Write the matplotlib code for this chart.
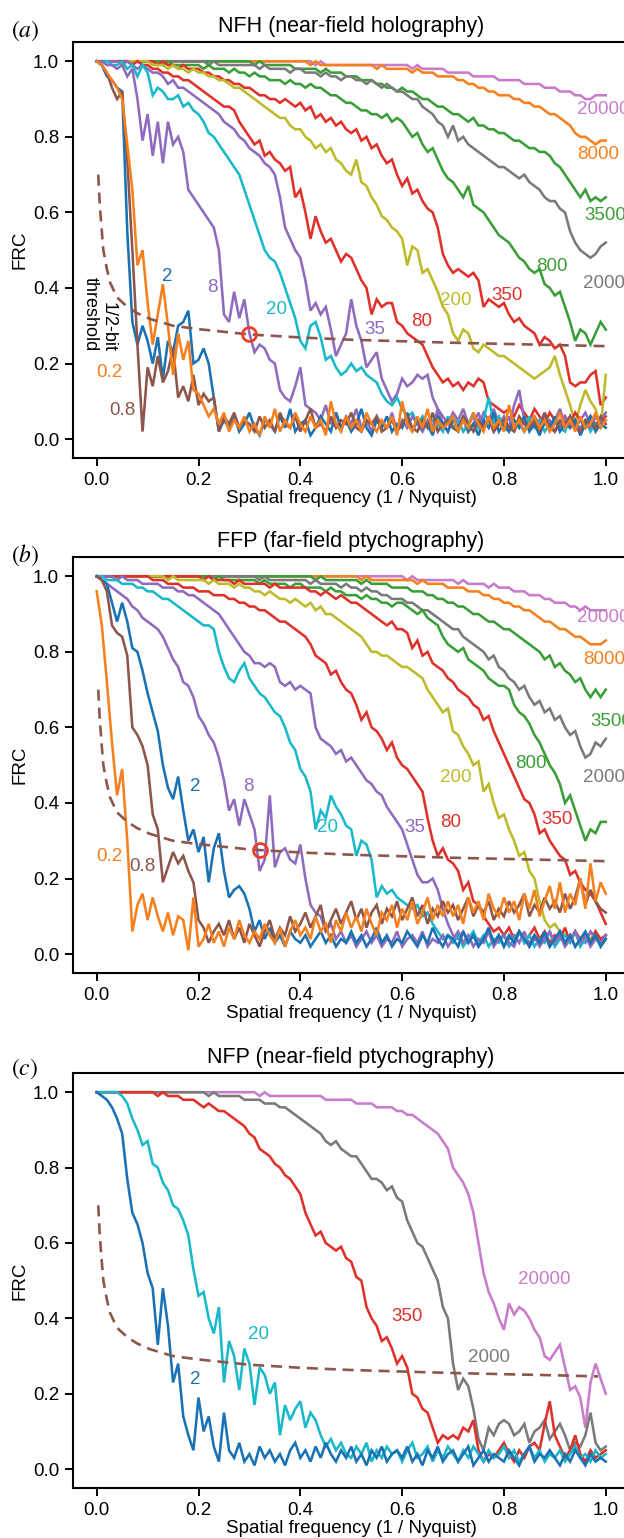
import numpy as np
import matplotlib
matplotlib.use('Agg')
from matplotlib import pyplot as plt

plt.rcParams['font.family'] = ['Liberation Sans', 'DejaVu Sans']
plt.rcParams['mathtext.fontset'] = 'stix'

BLUE = '#1a72b4'
ORANGE = '#f7801e'
BROWN = '#8c564b'
PURPLE = '#8f6bbd'
CYAN = '#1ab9c9'
RED = '#e0302a'
OLIVE = '#bdbb2a'
GREEN = '#3a9e38'
GRAY = '#7a7a7a'
PINK = '#c97cc9'

# FRC curves, sampled every 0.01 from 0 to 1 (1 / Nyquist)
# ---- (a) NFH ----
A_0P2 = [1.0, 0.99, 0.97, 0.95, 0.93, 0.90, 0.78, 0.66, 0.46, 0.50,
         0.36, 0.25, 0.33, 0.41, 0.30, 0.17, 0.28, 0.21, 0.26, 0.13,
         0.12, 0.09, 0.06, 0.08, 0.04, 0.07, 0.02, 0.05, 0.03, 0.06,
         0.02, 0.04, 0.01, 0.06, 0.03, 0.08, 0.02, 0.05, 0.03, 0.07,
         0.04, 0.02, 0.06, 0.03, 0.05, 0.01, 0.10, 0.04, 0.02, 0.06,
         0.03, 0.05, 0.02, 0.07, 0.04, 0.02, 0.05, 0.03, 0.06, 0.01,
         0.10, 0.04, 0.02, 0.06, 0.03, 0.08, 0.02, 0.05, 0.03, 0.04,
         0.06, 0.02, 0.05, 0.03, 0.07, 0.04, 0.02, 0.06, 0.03, 0.05,
         0.02, 0.09, 0.03, 0.05, 0.02, 0.04, 0.06, 0.03, 0.05, 0.02,
         0.04, 0.07, 0.03, 0.05, 0.02, 0.06, 0.03, 0.04, 0.07, 0.03,
         0.05]
A_0P8 = [1.0, 0.99, 0.97, 0.93, 0.90, 0.92, 0.74, 0.50, 0.25, 0.02,
         0.19, 0.14, 0.22, 0.15, 0.18, 0.24, 0.11, 0.14, 0.10, 0.17,
         0.09, 0.12, 0.10, 0.11, 0.02, 0.06, 0.04, 0.07, 0.03, 0.05,
         0.04, 0.02, 0.06, 0.03, 0.05, 0.02, 0.07, 0.04, 0.03, 0.06,
         0.02, 0.05, 0.08, 0.03, 0.04, 0.02, 0.06, 0.03, 0.05, 0.04,
         0.07, 0.03, 0.02, 0.05, 0.04, 0.06, 0.02, 0.03, 0.05, 0.02,
         0.04, 0.06, 0.03, 0.02, 0.05, 0.03, 0.07, 0.02, 0.04, 0.05,
         0.03, 0.02, 0.06, 0.04, 0.02, 0.05, 0.03, 0.06, 0.02, 0.04,
         0.05, 0.03, 0.02, 0.06, 0.04, 0.03, 0.05, 0.02, 0.07, 0.03,
         0.02, 0.05, 0.04, 0.06, 0.03, 0.02, 0.05, 0.04, 0.03, 0.06,
         0.04]
A_2 = [1.0, 0.99, 0.96, 0.95, 0.93, 0.92, 0.55, 0.31, 0.25, 0.30,
       0.26, 0.20, 0.27, 0.16, 0.26, 0.23, 0.30, 0.31, 0.34, 0.20,
       0.21, 0.24, 0.20, 0.11, 0.02, 0.05, 0.03, 0.06, 0.02, 0.04,
       0.07, 0.03, 0.01, 0.05, 0.04, 0.02, 0.06, 0.03, 0.08, 0.02,
       0.04, 0.05, 0.01, 0.03, 0.06, 0.04, 0.02, 0.07, 0.03, 0.05,
       0.02, 0.04, 0.08, 0.03, 0.01, 0.05, 0.03, 0.06, 0.02, 0.04,
       0.03, 0.07, 0.02, 0.05, 0.03, 0.04, 0.01, 0.06, 0.04, 0.02,
       0.05, 0.03, 0.06, 0.02, 0.04, 0.01, 0.05, 0.03, 0.07, 0.02,
       0.04, 0.02, 0.05, 0.03, 0.06, 0.02, 0.04, 0.01, 0.05, 0.03,
       0.06, 0.02, 0.04, 0.03, 0.05, 0.01, 0.04, 0.06, 0.02, 0.04,
       0.03]
A_8 = [1.0, 1.0, 0.99, 0.99, 0.98, 0.99, 0.96, 0.98, 0.90, 0.79,
       0.86, 0.75, 0.84, 0.73, 0.84, 0.78, 0.80, 0.76, 0.66, 0.64,
       0.62, 0.60, 0.58, 0.56, 0.50, 0.33, 0.31, 0.39, 0.32, 0.37,
       0.28, 0.23, 0.25, 0.24, 0.21, 0.20, 0.13, 0.11, 0.10, 0.14,
       0.19, 0.09, 0.08, 0.07, 0.05, 0.09, 0.04, 0.07, 0.03, 0.06,
       0.04, 0.08, 0.03, 0.05, 0.02, 0.06, 0.04, 0.03, 0.07, 0.02,
       0.05, 0.03, 0.06, 0.04, 0.02, 0.05, 0.03, 0.08, 0.04, 0.02,
       0.06, 0.03, 0.05, 0.02, 0.04, 0.07, 0.03, 0.05, 0.02, 0.04,
       0.03, 0.06, 0.02, 0.05, 0.04, 0.03, 0.06, 0.02, 0.04, 0.05,
       0.02, 0.04, 0.06, 0.03, 0.05, 0.02, 0.04, 0.03, 0.06, 0.04,
       0.05]
A_20 = [1.0, 1.0, 1.0, 0.99, 0.99, 1.0, 0.98, 0.99, 0.96, 0.99,
        0.97, 0.91, 0.93, 0.92, 0.90, 0.90, 0.91, 0.88, 0.89, 0.87,
        0.86, 0.84, 0.81, 0.80, 0.78, 0.76, 0.74, 0.72, 0.70, 0.66,
        0.62, 0.58, 0.54, 0.50, 0.48, 0.47, 0.44, 0.40, 0.36, 0.32,
        0.26, 0.24, 0.30, 0.31, 0.27, 0.21, 0.22, 0.19, 0.17, 0.18,
        0.20, 0.18, 0.19, 0.17, 0.16, 0.15, 0.12, 0.10, 0.09, 0.11,
        0.08, 0.06, 0.07, 0.04, 0.06, 0.03, 0.05, 0.04, 0.02, 0.06,
        0.03, 0.05, 0.02, 0.04, 0.07, 0.03, 0.05, 0.11, 0.04, 0.06,
        0.03, 0.02, 0.05, 0.04, 0.02, 0.06, 0.03, 0.05, 0.02, 0.04,
        0.05, 0.03, 0.02, 0.06, 0.04, 0.03, 0.05, 0.02, 0.04, 0.03,
        0.05]
A_35 = [1.0, 1.0, 1.0, 1.0, 1.0, 0.99, 1.0, 0.99, 0.98, 0.99,
        0.98, 0.97, 0.97, 0.96, 0.94, 0.95, 0.93, 0.93, 0.92, 0.91,
        0.90, 0.89, 0.88, 0.87, 0.86, 0.84, 0.83, 0.82, 0.80, 0.79,
        0.77, 0.76, 0.75, 0.73, 0.72, 0.70, 0.64, 0.56, 0.53, 0.50,
        0.48, 0.42, 0.34, 0.36, 0.33, 0.35, 0.29, 0.22, 0.25, 0.28,
        0.37, 0.30, 0.26, 0.19, 0.21, 0.23, 0.16, 0.13, 0.10, 0.12,
        0.16, 0.14, 0.15, 0.17, 0.16, 0.17, 0.11, 0.08, 0.06, 0.04,
        0.07, 0.05, 0.08, 0.04, 0.06, 0.03, 0.07, 0.05, 0.08, 0.04,
        0.06, 0.03, 0.09, 0.13, 0.05, 0.03, 0.06, 0.04, 0.07, 0.03,
        0.05, 0.08, 0.04, 0.06, 0.03, 0.05, 0.07, 0.04, 0.06, 0.05,
        0.07]
A_80 = [1.0, 1.0, 1.0, 1.0, 1.0, 1.0, 1.0, 0.99, 1.0, 0.99,
        0.99, 0.98, 0.98, 0.97, 0.97, 0.96, 0.96, 0.95, 0.95, 0.94,
        0.93, 0.92, 0.91, 0.90, 0.89, 0.88, 0.88, 0.87, 0.84, 0.82,
        0.80, 0.78, 0.79, 0.75, 0.76, 0.74, 0.73, 0.71, 0.72, 0.64,
        0.66, 0.60, 0.53, 0.59, 0.55, 0.52, 0.53, 0.50, 0.47, 0.49,
        0.48, 0.45, 0.42, 0.40, 0.33, 0.37, 0.35, 0.36, 0.36, 0.31,
        0.30, 0.28, 0.27, 0.26, 0.25, 0.22, 0.19, 0.17, 0.15, 0.16,
        0.14, 0.15, 0.13, 0.15, 0.14, 0.16, 0.15, 0.10, 0.09, 0.08,
        0.07, 0.08, 0.06, 0.09, 0.07, 0.05, 0.08, 0.06, 0.04, 0.07,
        0.05, 0.03, 0.06, 0.04, 0.07, 0.05, 0.03, 0.06, 0.04, 0.05,
        0.06]
A_200 = [1.0] * 10 + [
         1.0, 0.99, 0.99, 0.99, 0.98, 0.99, 0.98, 0.98, 0.97, 0.98,
         0.97, 0.97, 0.96, 0.96, 0.95, 0.95, 0.94, 0.93, 0.93, 0.92,
         0.91, 0.90, 0.89, 0.88, 0.87, 0.86, 0.85, 0.85, 0.83, 0.82,
         0.82, 0.80, 0.79, 0.77, 0.78, 0.76, 0.77, 0.74, 0.73, 0.71,
         0.70, 0.74, 0.68, 0.67, 0.64, 0.62, 0.59, 0.58, 0.56, 0.55,
         0.53, 0.46, 0.51, 0.50, 0.44, 0.45, 0.42, 0.39, 0.35, 0.33,
         0.28, 0.26, 0.29, 0.28, 0.24, 0.23, 0.25, 0.24, 0.23, 0.22,
         0.22, 0.21, 0.20, 0.19, 0.18, 0.17, 0.16, 0.17, 0.18, 0.19,
         0.22, 0.17, 0.13, 0.09, 0.04, 0.09, 0.13, 0.10, 0.08, 0.03,
         0.17]
A_350 = [1.0] * 10 + [
         1.0, 1.0, 0.99, 1.0, 0.99, 0.99, 0.98, 0.99, 0.98, 0.98,
         0.98, 0.97, 0.97, 0.96, 0.96, 0.95, 0.95, 0.94, 0.94, 0.93,
         0.93, 0.92, 0.91, 0.91, 0.90, 0.90, 0.89, 0.90, 0.89, 0.88,
         0.89, 0.87, 0.88, 0.85, 0.86, 0.84, 0.85, 0.83, 0.84, 0.82,
         0.81, 0.82, 0.79, 0.80, 0.77, 0.78, 0.75, 0.73, 0.74, 0.70,
         0.67, 0.69, 0.65, 0.66, 0.63, 0.61, 0.60, 0.56, 0.49, 0.46,
         0.44, 0.45, 0.44, 0.43, 0.44, 0.42, 0.35, 0.37, 0.36, 0.35,
         0.36, 0.33, 0.31, 0.32, 0.30, 0.29, 0.28, 0.25, 0.27, 0.26,
         0.24, 0.25, 0.22, 0.15, 0.14, 0.15, 0.15, 0.17, 0.18, 0.09,
         0.11]
A_800 = [1.0] * 10 + [
         1.0, 1.0, 1.0, 0.99, 1.0, 0.99, 0.99, 0.99, 0.99, 0.99,
         0.99, 0.98, 0.99, 0.98, 0.98, 0.98, 0.97, 0.98, 0.97, 0.97,
         0.96, 0.97, 0.96, 0.96, 0.95, 0.95, 0.95, 0.94, 0.95, 0.94,
         0.94, 0.93, 0.94, 0.93, 0.93, 0.92, 0.91, 0.91, 0.90, 0.89,
         0.89, 0.88, 0.87, 0.87, 0.86, 0.86, 0.85, 0.86, 0.84, 0.85,
         0.84, 0.82, 0.80, 0.81, 0.78, 0.76, 0.77, 0.74, 0.71, 0.69,
         0.68, 0.66, 0.64, 0.67, 0.62, 0.61, 0.60, 0.58, 0.56, 0.54,
         0.53, 0.52, 0.50, 0.48, 0.47, 0.45, 0.44, 0.45, 0.41, 0.40,
         0.38, 0.39, 0.35, 0.31, 0.26, 0.29, 0.28, 0.25, 0.28, 0.31,
         0.29]
A_2000 = [1.0] * 20 + [
          1.0, 1.0, 0.99, 1.0, 0.99, 0.99, 0.99, 0.99, 0.99, 0.99,
          0.99, 0.99, 0.98, 0.99, 0.98, 0.98, 0.98, 0.98, 0.97, 0.98,
          0.98, 0.97, 0.97, 0.97, 0.96, 0.97, 0.96, 0.96, 0.95, 0.96,
          0.96, 0.95, 0.95, 0.94, 0.95, 0.94, 0.93, 0.94, 0.93, 0.92,
          0.92, 0.91, 0.90, 0.90, 0.88, 0.87, 0.86, 0.84, 0.83, 0.80,
          0.83, 0.79, 0.80, 0.78, 0.77, 0.76, 0.75, 0.74, 0.73, 0.72,
          0.72, 0.71, 0.70, 0.69, 0.70, 0.68, 0.67, 0.66, 0.64, 0.63,
          0.63, 0.61, 0.60, 0.55, 0.52, 0.50, 0.49, 0.48, 0.49, 0.51,
          0.52]
A_3500 = [1.0] * 30 + [
          1.0, 0.99, 1.0, 0.99, 0.99, 0.99, 0.99, 0.99, 0.99, 0.98,
          0.98, 0.98, 0.98, 0.98, 0.97, 0.98, 0.97, 0.97, 0.97, 0.96,
          0.96, 0.96, 0.95, 0.95, 0.95, 0.94, 0.94, 0.93, 0.93, 0.92,
          0.93, 0.92, 0.92, 0.91, 0.90, 0.90, 0.89, 0.88, 0.88, 0.87,
          0.86, 0.86, 0.85, 0.84, 0.85, 0.83, 0.83, 0.82, 0.82, 0.81,
          0.81, 0.80, 0.79, 0.79, 0.78, 0.77, 0.77, 0.76, 0.76, 0.75,
          0.73, 0.72, 0.70, 0.68, 0.66, 0.64, 0.66, 0.63, 0.64, 0.63,
          0.64]
A_8000 = [1.0] * 40 + [
          1.0, 1.0, 0.99, 1.0, 0.99, 0.99, 0.99, 0.99, 0.99, 0.99,
          0.99, 0.99, 0.99, 0.99, 0.99, 0.98, 0.99, 0.98, 0.98, 0.98,
          0.98, 0.98, 0.97, 0.98, 0.97, 0.97, 0.97, 0.96, 0.96, 0.96,
          0.96, 0.95, 0.95, 0.94, 0.94, 0.93, 0.93, 0.92, 0.92, 0.91,
          0.91, 0.91, 0.90, 0.90, 0.89, 0.89, 0.88, 0.88, 0.87, 0.86,
          0.86, 0.85, 0.84, 0.83, 0.81, 0.80, 0.80, 0.79, 0.78, 0.79,
          0.79]
A_20000 = [1.0] * 40 + [
           1.0, 1.0, 1.0, 0.99, 1.0, 0.99, 0.99, 0.99, 0.99, 0.99,
           0.99, 0.99, 0.99, 0.99, 0.99, 0.99, 0.99, 0.99, 0.99, 0.99,
           0.99, 0.99, 0.98, 0.99, 0.98, 0.98, 0.98, 0.98, 0.98, 0.97,
           0.97, 0.97, 0.97, 0.97, 0.96, 0.96, 0.96, 0.96, 0.96, 0.95,
           0.95, 0.95, 0.95, 0.95, 0.94, 0.94, 0.94, 0.94, 0.93, 0.93,
           0.93, 0.92, 0.92, 0.92, 0.91, 0.91, 0.90, 0.90, 0.91, 0.91,
           0.91]

# ---- (b) FFP ----
B_0P2 = [0.96, 0.87, 0.72, 0.56, 0.42, 0.49, 0.30, 0.06, 0.13, 0.16,
         0.09, 0.15, 0.10, 0.06, 0.11, 0.05, 0.10, 0.09, 0.01, 0.15,
         0.02, 0.04, 0.08, 0.03, 0.06, 0.02, 0.07, 0.04, 0.09, 0.05,
         0.03, 0.06, 0.04, 0.08, 0.05, 0.03, 0.07, 0.02, 0.06, 0.09,
         0.05, 0.07, 0.04, 0.10, 0.06, 0.08, 0.03, 0.09, 0.06, 0.11,
         0.07, 0.10, 0.06, 0.12, 0.08, 0.05, 0.11, 0.09, 0.13, 0.07,
         0.12, 0.09, 0.14, 0.08, 0.11, 0.15, 0.09, 0.13, 0.10, 0.14,
         0.10, 0.13, 0.08, 0.15, 0.11, 0.14, 0.09, 0.16, 0.12, 0.10,
         0.15, 0.11, 0.14, 0.09, 0.16, 0.12, 0.17, 0.10, 0.14, 0.18,
         0.12, 0.19, 0.11, 0.16, 0.13, 0.20, 0.12, 0.24, 0.14, 0.19,
         0.16]
B_0P8 = [1.0, 0.99, 0.96, 0.87, 0.85, 0.84, 0.79, 0.60, 0.58, 0.55,
         0.50, 0.37, 0.33, 0.19, 0.23, 0.27, 0.24, 0.26, 0.22, 0.19,
         0.09, 0.07, 0.03, 0.06, 0.08, 0.05, 0.09, 0.04, 0.07, 0.03,
         0.08, 0.05, 0.02, 0.06, 0.09, 0.04, 0.07, 0.05, 0.10, 0.06,
         0.08, 0.11, 0.07, 0.10, 0.13, 0.06, 0.09, 0.12, 0.08, 0.11,
         0.14, 0.09, 0.12, 0.07, 0.11, 0.13, 0.08, 0.12, 0.10, 0.14,
         0.09, 0.12, 0.15, 0.10, 0.13, 0.08, 0.12, 0.10, 0.14, 0.11,
         0.13, 0.09, 0.12, 0.15, 0.10, 0.13, 0.11, 0.14, 0.09, 0.12,
         0.10, 0.14, 0.11, 0.13, 0.16, 0.10, 0.13, 0.11, 0.15, 0.12,
         0.14, 0.11, 0.16, 0.12, 0.15, 0.20, 0.13, 0.17, 0.14, 0.12,
         0.11]
B_2 = [1.0, 0.99, 0.98, 0.93, 0.88, 0.93, 0.88, 0.81, 0.80, 0.75,
       0.69, 0.64, 0.59, 0.50, 0.44, 0.41, 0.47, 0.38, 0.30, 0.33,
       0.27, 0.31, 0.19, 0.28, 0.32, 0.22, 0.15, 0.17, 0.18, 0.16,
       0.12, 0.06, 0.09, 0.04, 0.07, 0.03, 0.05, 0.02, 0.06, 0.04,
       0.03, 0.05, 0.02, 0.04, 0.06, 0.03, 0.05, 0.02, 0.04, 0.03,
       0.06, 0.03, 0.05, 0.02, 0.04, 0.07, 0.03, 0.05, 0.02, 0.04,
       0.03, 0.06, 0.04, 0.02, 0.05, 0.03, 0.07, 0.04, 0.02, 0.05,
       0.04, 0.02, 0.06, 0.03, 0.05, 0.02, 0.04, 0.07, 0.03, 0.05,
       0.02, 0.05, 0.03, 0.06, 0.04, 0.02, 0.05, 0.03, 0.06, 0.02,
       0.04, 0.06, 0.03, 0.05, 0.02, 0.04, 0.06, 0.03, 0.05, 0.02,
       0.04]
B_8 = [1.0, 0.99, 0.98, 0.97, 0.96, 0.95, 0.94, 0.92, 0.91, 0.89,
       0.88, 0.87, 0.86, 0.84, 0.81, 0.78, 0.76, 0.72, 0.71, 0.68,
       0.63, 0.61, 0.58, 0.56, 0.52, 0.46, 0.38, 0.41, 0.34, 0.41,
       0.37, 0.33, 0.22, 0.25, 0.42, 0.23, 0.27, 0.28, 0.25, 0.24,
       0.29, 0.20, 0.13, 0.11, 0.10, 0.06, 0.08, 0.04, 0.06, 0.03,
       0.05, 0.02, 0.04, 0.06, 0.03, 0.05, 0.02, 0.04, 0.03, 0.06,
       0.02, 0.04, 0.05, 0.03, 0.06, 0.02, 0.04, 0.03, 0.05, 0.02,
       0.04, 0.06, 0.03, 0.05, 0.02, 0.04, 0.03, 0.06, 0.02, 0.04,
       0.05, 0.03, 0.02, 0.06, 0.04, 0.03, 0.05, 0.02, 0.04, 0.06,
       0.03, 0.05, 0.02, 0.04, 0.06, 0.03, 0.05, 0.02, 0.04, 0.03,
       0.05]
B_20 = [1.0, 1.0, 0.99, 0.99, 0.99, 0.98, 0.98, 0.98, 0.97, 0.97,
        0.96, 0.96, 0.95, 0.94, 0.94, 0.93, 0.92, 0.91, 0.90, 0.89,
        0.88, 0.87, 0.87, 0.86, 0.80, 0.76, 0.73, 0.72, 0.75, 0.77,
        0.73, 0.71, 0.69, 0.68, 0.66, 0.64, 0.63, 0.60, 0.56, 0.54,
        0.49, 0.47, 0.43, 0.33, 0.38, 0.36, 0.42, 0.39, 0.37, 0.34,
        0.33, 0.26, 0.30, 0.29, 0.25, 0.15, 0.18, 0.16, 0.17, 0.15,
        0.14, 0.13, 0.12, 0.13, 0.10, 0.11, 0.08, 0.06, 0.04, 0.05,
        0.03, 0.05, 0.02, 0.04, 0.06, 0.03, 0.05, 0.02, 0.04, 0.03,
        0.05, 0.02, 0.04, 0.06, 0.03, 0.05, 0.02, 0.04, 0.03, 0.06,
        0.02, 0.04, 0.05, 0.03, 0.06, 0.02, 0.04, 0.03, 0.05, 0.02,
        0.04]
B_35 = [1.0, 1.0, 1.0, 1.0, 0.99, 1.0, 0.99, 0.99, 0.99, 0.98,
        0.98, 0.98, 0.98, 0.97, 0.97, 0.97, 0.96, 0.96, 0.95, 0.95,
        0.94, 0.93, 0.92, 0.91, 0.90, 0.88, 0.86, 0.84, 0.82, 0.80,
        0.79, 0.77, 0.77, 0.76, 0.77, 0.76, 0.72, 0.71, 0.72, 0.70,
        0.71, 0.70, 0.69, 0.60, 0.57, 0.56, 0.55, 0.53, 0.54, 0.51,
        0.52, 0.50, 0.48, 0.46, 0.45, 0.43, 0.42, 0.39, 0.37, 0.35,
        0.33, 0.29, 0.25, 0.21, 0.19, 0.19, 0.20, 0.17, 0.12, 0.08,
        0.05, 0.04, 0.06, 0.03, 0.05, 0.02, 0.04, 0.06, 0.03, 0.05,
        0.02, 0.04, 0.05, 0.03, 0.06, 0.02, 0.04, 0.03, 0.05, 0.02,
        0.04, 0.06, 0.03, 0.05, 0.02, 0.04, 0.03, 0.06, 0.04, 0.03,
        0.05]
B_80 = [1.0] * 10 + [
        1.0, 0.99, 0.99, 0.99, 0.98, 0.98, 0.98, 0.97, 0.97, 0.97,
        0.96, 0.96, 0.96, 0.95, 0.95, 0.95, 0.94, 0.94, 0.93, 0.93,
        0.92, 0.92, 0.91, 0.91, 0.90, 0.89, 0.88, 0.88, 0.87, 0.86,
        0.85, 0.84, 0.82, 0.79, 0.78, 0.77, 0.74, 0.75, 0.72, 0.70,
        0.69, 0.66, 0.62, 0.64, 0.60, 0.59, 0.57, 0.54, 0.56, 0.52,
        0.50, 0.49, 0.47, 0.45, 0.43, 0.36, 0.30, 0.26, 0.28, 0.25,
        0.24, 0.22, 0.17, 0.19, 0.14, 0.13, 0.10, 0.08, 0.06, 0.07,
        0.05, 0.07, 0.04, 0.06, 0.03, 0.05, 0.07, 0.04, 0.06, 0.03,
        0.05, 0.04, 0.07, 0.03, 0.06, 0.04, 0.05, 0.03, 0.06, 0.04,
        0.05]
B_200 = [1.0] * 10 + [
         1.0, 1.0, 1.0, 1.0, 0.99, 1.0, 0.99, 0.99, 0.99, 0.99,
         0.99, 0.99, 0.98, 0.99, 0.98, 0.98, 0.98, 0.97, 0.98, 0.97,
         0.97, 0.96, 0.96, 0.95, 0.96, 0.95, 0.94, 0.94, 0.93, 0.94,
         0.93, 0.92, 0.93, 0.91, 0.92, 0.90, 0.90, 0.89, 0.88, 0.87,
         0.86, 0.85, 0.84, 0.82, 0.80, 0.80, 0.79, 0.79, 0.78, 0.77,
         0.76, 0.76, 0.75, 0.74, 0.73, 0.70, 0.68, 0.66, 0.64, 0.65,
         0.59, 0.58, 0.55, 0.53, 0.50, 0.51, 0.43, 0.45, 0.40, 0.36,
         0.37, 0.33, 0.30, 0.26, 0.27, 0.22, 0.20, 0.14, 0.09, 0.07,
         0.08, 0.06, 0.05, 0.04, 0.06, 0.03, 0.05, 0.04, 0.06, 0.03,
         0.05]
B_350 = [1.0] * 20 + [
         1.0, 0.99, 1.0, 0.99, 0.99, 0.99, 0.99, 0.98, 0.99, 0.98,
         0.98, 0.98, 0.98, 0.98, 0.97, 0.98, 0.97, 0.97, 0.97, 0.97,
         0.97, 0.97, 0.96, 0.96, 0.95, 0.96, 0.95, 0.94, 0.95, 0.94,
         0.93, 0.93, 0.92, 0.91, 0.90, 0.89, 0.88, 0.87, 0.88, 0.86,
         0.86, 0.85, 0.81, 0.83, 0.79, 0.80, 0.77, 0.76, 0.75, 0.73,
         0.72, 0.70, 0.69, 0.68, 0.66, 0.65, 0.62, 0.63, 0.59, 0.56,
         0.53, 0.50, 0.47, 0.44, 0.41, 0.40, 0.37, 0.32, 0.33, 0.30,
         0.28, 0.26, 0.25, 0.21, 0.22, 0.19, 0.17, 0.16, 0.14, 0.11,
         0.08]
B_800 = [1.0] * 20 + [
         1.0, 1.0, 1.0, 0.99, 1.0, 0.99, 0.99, 0.99, 0.99, 0.99,
         0.99, 0.99, 0.98, 0.99, 0.98, 0.98, 0.98, 0.98, 0.97, 0.98,
         0.98, 0.97, 0.97, 0.97, 0.97, 0.96, 0.97, 0.96, 0.96, 0.95,
         0.95, 0.95, 0.94, 0.95, 0.94, 0.94, 0.93, 0.93, 0.92, 0.93,
         0.93, 0.92, 0.91, 0.90, 0.91, 0.89, 0.88, 0.87, 0.84, 0.82,
         0.81, 0.80, 0.81, 0.78, 0.77, 0.76, 0.75, 0.73, 0.72, 0.71,
         0.71, 0.70, 0.66, 0.64, 0.63, 0.61, 0.58, 0.56, 0.53, 0.50,
         0.48, 0.45, 0.40, 0.42, 0.38, 0.34, 0.30, 0.33, 0.32, 0.35,
         0.35]
B_2000 = [1.0] * 30 + [
          1.0, 1.0, 0.99, 1.0, 0.99, 0.99, 0.99, 0.99, 0.99, 0.99,
          0.99, 0.99, 0.98, 0.99, 0.98, 0.98, 0.98, 0.98, 0.97, 0.98,
          0.97, 0.97, 0.96, 0.97, 0.96, 0.96, 0.95, 0.95, 0.94, 0.94,
          0.94, 0.93, 0.93, 0.92, 0.91, 0.91, 0.90, 0.89, 0.88, 0.87,
          0.86, 0.86, 0.84, 0.83, 0.82, 0.81, 0.80, 0.78, 0.79, 0.76,
          0.75, 0.73, 0.72, 0.70, 0.71, 0.68, 0.66, 0.67, 0.64, 0.65,
          0.62, 0.63, 0.60, 0.58, 0.59, 0.55, 0.52, 0.53, 0.56, 0.55,
          0.57]
B_3500 = [1.0] * 40 + [
          1.0, 1.0, 1.0, 0.99, 1.0, 0.99, 0.99, 0.99, 0.99, 0.99,
          0.99, 0.99, 0.98, 0.99, 0.98, 0.98, 0.98, 0.98, 0.97, 0.97,
          0.97, 0.97, 0.96, 0.96, 0.96, 0.95, 0.95, 0.94, 0.94, 0.93,
          0.93, 0.92, 0.92, 0.91, 0.90, 0.90, 0.89, 0.88, 0.88, 0.87,
          0.86, 0.86, 0.85, 0.84, 0.83, 0.82, 0.81, 0.80, 0.78, 0.79,
          0.76, 0.77, 0.75, 0.74, 0.72, 0.73, 0.70, 0.68, 0.70, 0.68,
          0.70]
B_8000 = [1.0] * 50 + [
          1.0, 1.0, 0.99, 1.0, 0.99, 0.99, 0.99, 0.99, 0.99, 0.99,
          0.99, 0.99, 0.99, 0.98, 0.99, 0.98, 0.98, 0.98, 0.98, 0.97,
          0.97, 0.97, 0.97, 0.96, 0.96, 0.96, 0.95, 0.95, 0.94, 0.94,
          0.93, 0.93, 0.92, 0.92, 0.91, 0.91, 0.90, 0.89, 0.88, 0.88,
          0.87, 0.86, 0.86, 0.85, 0.84, 0.84, 0.83, 0.82, 0.82, 0.82,
          0.83]
B_20000 = [1.0] * 60 + [
           1.0, 0.99, 1.0, 0.99, 0.99, 0.99, 0.99, 0.99, 0.99, 0.99,
           0.99, 0.98, 0.99, 0.98, 0.98, 0.98, 0.98, 0.97, 0.98, 0.97,
           0.97, 0.97, 0.96, 0.96, 0.96, 0.95, 0.95, 0.95, 0.94, 0.94,
           0.93, 0.93, 0.93, 0.92, 0.92, 0.91, 0.92, 0.91, 0.91, 0.91,
           0.91]

# ---- (c) NFP ----
C_2 = [1.0, 0.99, 0.98, 0.96, 0.93, 0.89, 0.77, 0.68, 0.65, 0.60,
       0.52, 0.48, 0.33, 0.48, 0.38, 0.23, 0.28, 0.14, 0.09, 0.05,
       0.19, 0.10, 0.14, 0.06, 0.02, 0.15, 0.05, 0.03, 0.07, 0.02,
       0.04, 0.01, 0.06, 0.03, 0.05, 0.02, 0.04, 0.01, 0.05, 0.07,
       0.03, 0.05, 0.02, 0.06, 0.03, 0.07, 0.04, 0.02, 0.05, 0.03,
       0.06, 0.02, 0.04, 0.01, 0.05, 0.03, 0.06, 0.02, 0.04, 0.05,
       0.03, 0.06, 0.02, 0.04, 0.01, 0.05, 0.03, 0.06, 0.02, 0.04,
       0.05, 0.02, 0.04, 0.06, 0.01, 0.03, 0.05, 0.02, 0.04, 0.03,
       0.02, 0.05, 0.03, 0.01, 0.04, 0.06, 0.02, 0.04, 0.03, 0.05,
       0.03, 0.01, 0.04, 0.02, 0.05, 0.03, 0.01, 0.04, 0.02, 0.03,
       0.02]
C_20 = [1.0, 1.0, 1.0, 1.0, 1.0, 0.99, 0.97, 0.93, 0.90, 0.86,
        0.87, 0.81, 0.80, 0.76, 0.74, 0.70, 0.69, 0.66, 0.62, 0.53,
        0.46, 0.47, 0.40, 0.36, 0.43, 0.23, 0.34, 0.30, 0.21, 0.32,
        0.28, 0.17, 0.27, 0.25, 0.20, 0.23, 0.09, 0.17, 0.13, 0.16,
        0.18, 0.11, 0.15, 0.13, 0.09, 0.06, 0.08, 0.05, 0.07, 0.04,
        0.03, 0.06, 0.04, 0.07, 0.02, 0.05, 0.03, 0.06, 0.04, 0.05,
        0.02, 0.05, 0.07, 0.03, 0.04, 0.06, 0.02, 0.05, 0.03, 0.06,
        0.04, 0.02, 0.05, 0.03, 0.06, 0.04, 0.02, 0.05, 0.03, 0.04,
        0.06, 0.03, 0.05, 0.02, 0.04, 0.06, 0.03, 0.05, 0.02, 0.04,
        0.03, 0.05, 0.02, 0.04, 0.06, 0.03, 0.04, 0.02, 0.05, 0.03,
        0.04]
C_350 = [1.0] * 10 + [
         1.0, 1.0, 0.99, 1.0, 0.99, 0.99, 0.99, 0.98, 0.98, 0.98,
         0.97, 0.96, 0.97, 0.96, 0.95, 0.95, 0.94, 0.93, 0.92, 0.91,
         0.89, 0.88, 0.85, 0.84, 0.83, 0.81, 0.80, 0.78, 0.77, 0.75,
         0.73, 0.68, 0.65, 0.62, 0.63, 0.60, 0.59, 0.58, 0.59, 0.56,
         0.55, 0.51, 0.50, 0.43, 0.40, 0.38, 0.34, 0.35, 0.32, 0.28,
         0.30, 0.27, 0.20, 0.19, 0.16, 0.15, 0.11, 0.07, 0.09, 0.08,
         0.09, 0.08, 0.11, 0.10, 0.13, 0.05, 0.02, 0.04, 0.03, 0.05,
         0.07, 0.04, 0.02, 0.05, 0.03, 0.06, 0.07, 0.05, 0.12, 0.18,
         0.09, 0.06, 0.03, 0.05, 0.09, 0.04, 0.02, 0.05, 0.03, 0.04,
         0.05]
C_2000 = [1.0] * 20 + [
          1.0, 1.0, 0.99, 1.0, 0.99, 0.99, 0.99, 0.99, 0.99, 0.98,
          0.98, 0.98, 0.98, 0.97, 0.97, 0.97, 0.96, 0.96, 0.95, 0.94,
          0.93, 0.92, 0.91, 0.90, 0.89, 0.87, 0.86, 0.87, 0.85, 0.84,
          0.83, 0.83, 0.81, 0.79, 0.77, 0.77, 0.76, 0.74, 0.75, 0.72,
          0.71, 0.66, 0.63, 0.60, 0.59, 0.56, 0.53, 0.50, 0.43, 0.40,
          0.28, 0.21, 0.24, 0.22, 0.16, 0.08, 0.05, 0.11, 0.09, 0.12,
          0.13, 0.12, 0.09, 0.10, 0.12, 0.07, 0.10, 0.11, 0.13, 0.08,
          0.10, 0.12, 0.09, 0.05, 0.07, 0.06, 0.09, 0.15, 0.07, 0.05,
          0.06]
C_20000 = [1.0] * 30 + [
           1.0, 1.0, 0.99, 1.0, 0.99, 0.99, 0.99, 0.99, 0.99, 0.99,
           0.99, 0.99, 0.99, 0.99, 0.99, 0.98, 0.98, 0.98, 0.98, 0.98,
           0.98, 0.97, 0.97, 0.97, 0.97, 0.96, 0.96, 0.96, 0.96, 0.95,
           0.95, 0.94, 0.94, 0.93, 0.92, 0.91, 0.90, 0.89, 0.87, 0.85,
           0.80, 0.78, 0.76, 0.73, 0.68, 0.60, 0.52, 0.47, 0.44, 0.40,
           0.37, 0.44, 0.41, 0.43, 0.42, 0.40, 0.37, 0.35, 0.30, 0.29,
           0.31, 0.33, 0.27, 0.21, 0.22, 0.19, 0.11, 0.23, 0.28, 0.24,
           0.20]

# 1/2-bit threshold
THR_X = [0.003, 0.006, 0.01, 0.013, 0.02, 0.026, 0.04, 0.06, 0.08, 0.105,
         0.15, 0.2, 0.3, 0.4, 0.5, 0.6, 0.7, 0.8, 0.9, 1.0]
THR_Y = [0.70, 0.62, 0.55, 0.50, 0.45, 0.415, 0.375, 0.35, 0.333, 0.318,
         0.30, 0.291, 0.277, 0.269, 0.263, 0.259, 0.255, 0.252, 0.249, 0.246]
THR_X_C = THR_X[:-1] + [0.985]

# resolution crossing markers
CROSS_A = (0.30, 0.277)
CROSS_B = (0.32, 0.275)

# (label, colour, curve, label x, label y, alignment)
PANEL_A = [
    ('20000', PINK, A_20000, 0.944, 0.872, 'left'),
    ('8000', ORANGE, A_8000, 0.944, 0.752, 'left'),
    ('3500', GREEN, A_3500, 0.958, 0.593, 'left'),
    ('2000', GRAY, A_2000, 0.956, 0.413, 'left'),
    ('800', GREEN, A_800, 0.895, 0.456, 'center'),
    ('350', RED, A_350, 0.806, 0.38, 'center'),
    ('200', OLIVE, A_200, 0.706, 0.368, 'center'),
    ('80', RED, A_80, 0.639, 0.31, 'center'),
    ('35', PURPLE, A_35, 0.547, 0.289, 'center'),
    ('20', CYAN, A_20, 0.354, 0.342, 'center'),
    ('8', PURPLE, A_8, 0.227, 0.40, 'center'),
    ('2', BLUE, A_2, 0.138, 0.43, 'center'),
    ('0.8', BROWN, A_0P8, 0.05, 0.077, 'center'),
    ('0.2', ORANGE, A_0P2, 0.024, 0.175, 'center'),
]
PANEL_B = [
    ('20000', PINK, B_20000, 0.944, 0.89, 'left'),
    ('8000', ORANGE, B_8000, 0.956, 0.78, 'left'),
    ('3500', GREEN, B_3500, 0.969, 0.615, 'left'),
    ('2000', GRAY, B_2000, 0.956, 0.467, 'left'),
    ('800', GREEN, B_800, 0.852, 0.505, 'center'),
    ('350', RED, B_350, 0.905, 0.356, 'center'),
    ('200', OLIVE, B_200, 0.706, 0.467, 'center'),
    ('80', RED, B_80, 0.696, 0.348, 'center'),
    ('35', PURPLE, B_35, 0.624, 0.335, 'center'),
    ('20', CYAN, B_20, 0.453, 0.335, 'center'),
    ('8', PURPLE, B_8, 0.298, 0.443, 'center'),
    ('2', BLUE, B_2, 0.193, 0.443, 'center'),
    ('0.8', BROWN, B_0P8, 0.089, 0.232, 'center'),
    ('0.2', ORANGE, B_0P2, 0.024, 0.258, 'center'),
]
PANEL_C = [
    ('20000', PINK, C_20000, 0.879, 0.503, 'center'),
    ('2000', GRAY, C_2000, 0.771, 0.296, 'center'),
    ('350', RED, C_350, 0.61, 0.405, 'center'),
    ('20', CYAN, C_20, 0.317, 0.357, 'center'),
    ('2', BLUE, C_2, 0.193, 0.238, 'center'),
]

W, H = 624, 1538
fig = plt.figure(figsize=(W / 100, H / 100), dpi=100)


def make_axes(top_px, bottom_px):
    left_px, right_px = 73, 629
    return fig.add_axes([left_px / W, 1 - bottom_px / H,
                         (right_px - left_px) / W, (bottom_px - top_px) / H])


panels = [
    (make_axes(42, 458), PANEL_A, 'NFH (near-field holography)', '$(a)$', 31, THR_X, CROSS_A),
    (make_axes(557, 973), PANEL_B, 'FFP (far-field ptychography)', '$(b)$', 555, THR_X, CROSS_B),
    (make_axes(1073, 1488), PANEL_C, 'NFP (near-field ptychography)', '$(c)$', 1069, THR_X_C, None),
]

for ax, curves, title, tag, tag_y, thr_x, cross in panels:
    for label, color, frc, lx, ly, ha in curves:
        xs = np.linspace(0., 1., len(frc))
        ax.plot(xs, frc, color=color, linewidth=1.85, solid_joinstyle='miter')
        ax.text(lx, ly, label, color=color, fontsize=13.5, ha=ha, va='center')
    ax.plot(thr_x, THR_Y[:len(thr_x)], color=BROWN, linewidth=1.9,
            linestyle=(0, (4.2, 2.6)))
    if cross is not None:
        ax.plot(*cross, marker='o', markersize=10, markerfacecolor='none',
                markeredgecolor='#e8402c', markeredgewidth=2)

    ax.set_xlim(-0.0466, 1.0457)
    ax.set_ylim(-0.05, 1.051)
    ax.set_xticks([0.0, 0.2, 0.4, 0.6, 0.8, 1.0])
    ax.set_yticks([0.0, 0.2, 0.4, 0.6, 0.8, 1.0])
    ax.tick_params(direction='out', length=6, width=1.4, labelsize=13.5, pad=4)
    for spine in ax.spines.values():
        spine.set_linewidth(1.5)
    ax.set_title(title, fontsize=15.5, pad=7)
    ax.set_xlabel('Spatial frequency (1 / Nyquist)', fontsize=13.5, labelpad=1)
    ax.set_ylabel('FRC', fontsize=13.5, labelpad=3)
    fig.text(25 / W, 1 - tag_y / H, tag, fontsize=17, ha='center', va='center')

panels[0][0].text(0.005, 0.33, '1/2-bit\nthreshold', rotation=-90, fontsize=13,
                  ha='center', va='center', multialignment='right', linespacing=1.1)

fig.savefig('out.png', dpi=100)
